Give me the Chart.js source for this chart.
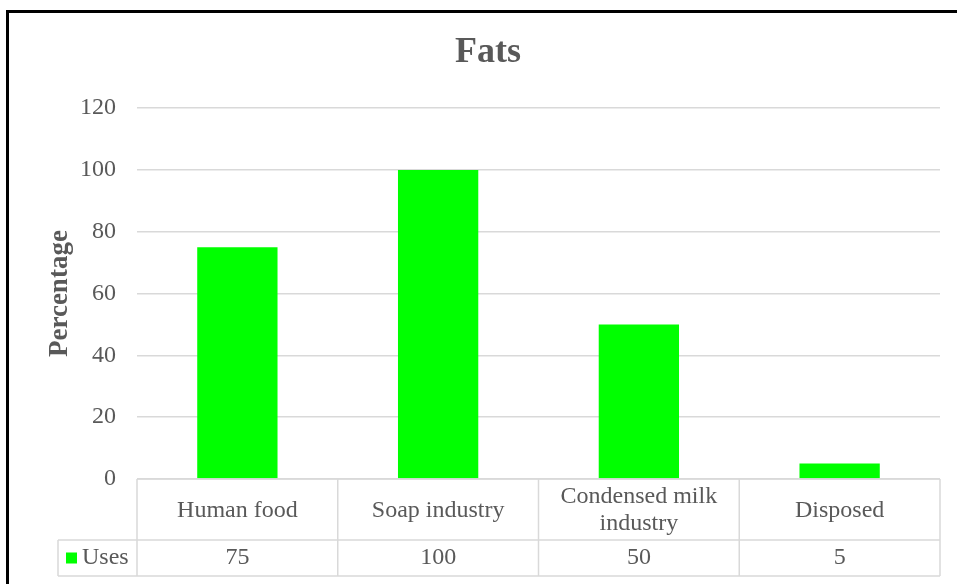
<!DOCTYPE html>
<html>
<head>
<meta charset="utf-8">
<script src="https://cdn.jsdelivr.net/npm/chart.js@4/dist/chart.umd.min.js"></script>
<style>
    html, body { margin: 0; padding: 0; background: #fff; overflow: hidden; }
    #frame { position: absolute; left: 6px; top: 10px; width: 1000px; height: 700px; border: 3px solid #000; }
    #wrap { position: absolute; left: 0; top: 0; width: 957px; height: 584px; }
</style>
</head>
<body>
<div id="frame"></div>
<div id="wrap"><canvas id="fatsChart" width="957" height="584"></canvas></div>
<script>
    const categories = [['Human food'], ['Soap industry'], ['Condensed milk', 'industry'], ['Disposed']];
    const seriesName = 'Uses';
    const usesValues = [75, 100, 50, 5];
    const yTicks = [0, 20, 40, 60, 80, 100, 120];

    const barColor = '#00ff00';
    const lineColor = '#d9d9d9';
    const textColor = '#595959';
    const serif = '"Liberation Serif", "Times New Roman", serif';

    // Data table under the plot, drawn from the x scale
    const dataTable = {
        id: 'dataTable',
        afterDraw(chart) {
            const ctx = chart.ctx;
            const x = chart.scales.x;
            const area = chart.chartArea;
            const top = area.bottom;
            const mid = top + 61;
            const bottom = top + 97;
            const left = area.left;
            const right = area.right;
            const legendLeft = 58;
            const step = (right - left) / categories.length;

            ctx.save();
            ctx.strokeStyle = lineColor;
            ctx.lineWidth = 1.5;
            ctx.beginPath();
            ctx.moveTo(left, top); ctx.lineTo(right, top);
            ctx.moveTo(legendLeft, mid); ctx.lineTo(right, mid);
            ctx.moveTo(legendLeft, bottom); ctx.lineTo(right, bottom);
            ctx.moveTo(legendLeft, mid); ctx.lineTo(legendLeft, bottom);
            for (let i = 0; i <= categories.length; i++) {
                const px = left + step * i;
                ctx.moveTo(px, top); ctx.lineTo(px, bottom);
            }
            ctx.stroke();

            ctx.fillStyle = textColor;
            ctx.font = '24px ' + serif;
            ctx.textAlign = 'center';
            ctx.textBaseline = 'middle';
            categories.forEach((lines, i) => {
                const cx = x.getPixelForValue(i);
                const cy = (top + mid) / 2 + 1;
                const lh = 27;
                lines.forEach((t, j) => {
                    ctx.fillText(t, cx, cy + (j - (lines.length - 1) / 2) * lh);
                });
                ctx.fillText(String(usesValues[i]), cx, (mid + bottom) / 2);
            });

            // legend key + series name
            ctx.fillStyle = barColor;
            ctx.fillRect(66, (mid + bottom) / 2 - 5.5, 11, 11);
            ctx.fillStyle = textColor;
            ctx.textAlign = 'left';
            ctx.fillText(seriesName, 82, (mid + bottom) / 2);
            ctx.restore();
        }
    };

    const fatsChart = new Chart(document.getElementById('fatsChart').getContext('2d'), {
        type: 'bar',
        data: {
            labels: categories.map(c => c.join(' ')),
            datasets: [{
                label: seriesName,
                data: usesValues,
                backgroundColor: barColor,
                borderWidth: 0,
                barPercentage: 1,
                categoryPercentage: 0.4
            }]
        },
        options: {
            responsive: false,
            animation: false,
            layout: { padding: { left: 36, right: 17, top: 0, bottom: 0 } },
            plugins: {
                legend: { display: false },
                tooltip: { enabled: false },
                title: {
                    display: true,
                    text: 'Fats',
                    color: textColor,
                    font: { family: serif, size: 36, weight: 'bold' },
                    padding: { top: 31, bottom: 34 }
                }
            },
            scales: {
                x: {
                    ticks: { display: false },
                    grid: { display: false, drawTicks: false },
                    border: { display: false },
                    afterFit(scale) { scale.height = 105; }
                },
                y: {
                    min: 0,
                    max: 120,
                    afterBuildTicks(scale) { scale.ticks = yTicks.map(v => ({ value: v })); },
                    ticks: {
                        color: textColor,
                        padding: 21,
                        font: { family: serif, size: 24 }
                    },
                    grid: { color: lineColor, lineWidth: 1.5, drawTicks: false },
                    border: { display: false },
                    title: {
                        display: true,
                        text: 'Percentage',
                        color: textColor,
                        font: { family: serif, size: 27, weight: 'bold' },
                        padding: { top: 8, bottom: 0 }
                    },
                    afterFit(scale) { scale.width = 101; }
                }
            }
        },
        plugins: [dataTable]
    });
</script>
</body>
</html>
